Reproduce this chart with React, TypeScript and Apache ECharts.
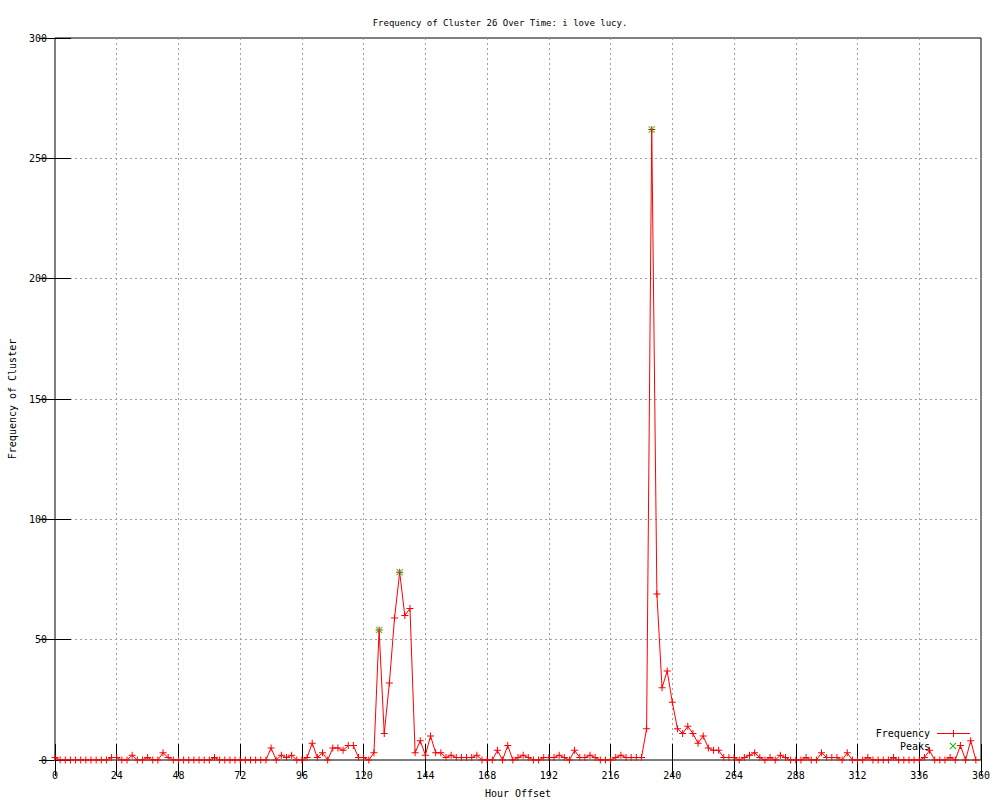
import React, { useEffect, useRef } from 'react';
import * as echarts from 'echarts';

const hours = [
  0, 2, 4, 6, 8, 10, 12, 14, 16, 18,
  20, 22, 24, 26, 28, 30, 32, 34, 36, 38,
  40, 42, 44, 46, 48, 50, 52, 54, 56, 58,
  60, 62, 64, 66, 68, 70, 72, 74, 76, 78,
  80, 82, 84, 86, 88, 90, 92, 94, 96, 98,
  100, 102, 104, 106, 108, 110, 112, 114, 116, 118,
  120, 122, 124, 126, 128, 130, 132, 134, 136, 138,
  140, 142, 144, 146, 148, 150, 152, 154, 156, 158,
  160, 162, 164, 166, 168, 170, 172, 174, 176, 178,
  180, 182, 184, 186, 188, 190, 192, 194, 196, 198,
  200, 202, 204, 206, 208, 210, 212, 214, 216, 218,
  220, 222, 224, 226, 228, 230, 232, 234, 236, 238,
  240, 242, 244, 246, 248, 250, 252, 254, 256, 258,
  260, 262, 264, 266, 268, 270, 272, 274, 276, 278,
  280, 282, 284, 286, 288, 290, 292, 294, 296, 298,
  300, 302, 304, 306, 308, 310, 312, 314, 316, 318,
  320, 322, 324, 326, 328, 330, 332, 334, 336, 338,
  340, 342, 344, 346, 348, 350, 352, 354, 356, 358,
];

const frequency = [
  1, 0, 0, 0, 0, 0, 0, 0, 0, 0,
  0, 1, 1, 0, 0, 2, 0, 0, 1, 0,
  0, 3, 1, 0, 0, 0, 0, 0, 0, 0,
  0, 1, 0, 0, 0, 0, 0, 0, 0, 0,
  0, 0, 5, 0, 2, 1, 2, 0, 0, 1,
  7, 1, 3, 0, 5, 5, 4, 6, 6, 1,
  1, 0, 3, 54, 11, 32, 59, 78, 60, 63,
  3, 8, 2, 10, 3, 3, 1, 2, 1, 1,
  1, 1, 2, 0, 0, 0, 4, 0, 6, 0,
  1, 2, 1, 0, 0, 1, 1, 1, 2, 1,
  0, 4, 1, 1, 2, 1, 0, 0, 0, 1,
  2, 1, 1, 1, 1, 13, 262, 69, 30, 37,
  24, 13, 11, 14, 11, 7, 10, 5, 4, 4,
  1, 1, 1, 0, 1, 2, 3, 1, 0, 1,
  0, 2, 1, 0, 0, 0, 1, 0, 0, 3,
  1, 1, 1, 0, 3, 0, 0, 0, 1, 0,
  0, 0, 0, 1, 0, 0, 0, 0, 0, 1,
  4, 0, 0, 0, 1, 0, 6, 0, 8, 0,
];

const peakHours = [126, 134, 232];

const xMin = 0;
const xMax = 360;
const xStep = 24;
const yMin = 0;
const yMax = 300;
const yStep = 50;

const titleText = 'Frequency of Cluster 26 Over Time: i love lucy.';
const xName = 'Hour Offset';
const yName = 'Frequency of Cluster';
const seriesNames = ['Frequency', 'Peaks'];

const FONT = 'DejaVu Sans Mono';
const RED = '#ff0000';
const GREEN = '#00c000';

const PLUS = 'path://M3,0H4V3H7V4H4V7H3V4H0V3H3Z';
const CROSS = 'path://M0,0.7L0.7,0L3.5,2.8L6.3,0L7,0.7L4.2,3.5L7,6.3L6.3,7L3.5,4.2L0.7,7L0,6.3L2.8,3.5Z';

export default function App() {
  const ref = useRef<HTMLDivElement>(null);

  useEffect(() => {
    document.body.style.margin = '0';
    if (!ref.current) return;
    const chart = echarts.init(ref.current, undefined, { renderer: 'svg' });

    const lineData = hours.map((h, i) => [h, frequency[i]]);
    const peakData = peakHours.map((h) => [h, frequency[hours.indexOf(h)]]);

    const textStyle = { fontFamily: FONT, fontSize: 10, color: '#000' };
    const tickStyle = { color: '#000', width: 1 };
    const gridLine = { color: '#a0a0a0', width: 1, type: [2, 3] as number[] };
    const TICK = 16;

    // legend key geometry (x of key centre, rows)
    const kx = 953;
    const ky1 = 733;
    const ky2 = 746;
    const crossPts = [
      [kx - 3.5, ky2 - 2.8], [kx - 2.8, ky2 - 3.5], [kx, ky2 - 0.7], [kx + 2.8, ky2 - 3.5],
      [kx + 3.5, ky2 - 2.8], [kx + 0.7, ky2], [kx + 3.5, ky2 + 2.8], [kx + 2.8, ky2 + 3.5],
      [kx, ky2 + 0.7], [kx - 2.8, ky2 + 3.5], [kx - 3.5, ky2 + 2.8], [kx - 0.7, ky2],
    ];

    const option: any = {
      animation: false,
      backgroundColor: '#fff',
      title: {
        text: titleText,
        left: 'center',
        top: 13,
        textStyle: { ...textStyle, fontSize: 9, fontWeight: 'normal' },
      },
      grid: {
        left: 55,
        right: 19,
        top: 38,
        bottom: 40,
        outerBoundsMode: 'none',
        containLabel: false,
        show: true,
        borderColor: '#000',
        borderWidth: 1,
        backgroundColor: 'transparent',
      },
      xAxis: [
        {
          type: 'value',
          min: xMin,
          max: xMax,
          interval: xStep,
          name: xName,
          nameLocation: 'middle',
          nameGap: 28,
          nameTextStyle: textStyle,
          axisLine: { show: false },
          axisTick: { show: true, inside: true, length: TICK, lineStyle: tickStyle },
          axisLabel: { ...textStyle, margin: 10 },
          splitLine: { show: true, showMinLine: false, showMaxLine: false, lineStyle: gridLine },
        },
        {
          type: 'value',
          position: 'top',
          min: xMin,
          max: xMax,
          interval: xStep,
          axisLine: { show: false },
          axisTick: { show: true, inside: true, length: TICK, lineStyle: tickStyle },
          axisLabel: { show: false },
          splitLine: { show: false },
        },
      ],
      yAxis: [
        {
          type: 'value',
          min: yMin,
          max: yMax,
          interval: yStep,
          name: yName,
          nameLocation: 'middle',
          nameGap: 38,
          nameTextStyle: textStyle,
          axisLine: { show: false },
          axisTick: { show: true, inside: true, length: TICK, lineStyle: tickStyle },
          axisLabel: { ...textStyle, margin: 8 },
          splitLine: { show: true, showMinLine: false, showMaxLine: false, lineStyle: gridLine },
        },
        {
          type: 'value',
          position: 'right',
          min: yMin,
          max: yMax,
          interval: yStep,
          axisLine: { show: false },
          axisTick: { show: true, inside: true, length: TICK, lineStyle: tickStyle },
          axisLabel: { show: false },
          splitLine: { show: false },
        },
      ],
      series: [
        {
          name: seriesNames[0],
          type: 'line',
          xAxisIndex: 0,
          yAxisIndex: 0,
          data: lineData,
          symbol: PLUS,
          symbolSize: 7,
          showAllSymbol: true,
          itemStyle: { color: RED },
          lineStyle: { color: RED, width: 1 },
          z: 3,
        },
        {
          name: seriesNames[1],
          type: 'scatter',
          xAxisIndex: 0,
          yAxisIndex: 0,
          data: peakData,
          symbol: CROSS,
          symbolSize: 7,
          itemStyle: { color: GREEN },
          z: 4,
        },
      ],
      graphic: [
        {
          type: 'text',
          x: 930,
          y: ky1,
          z: 100,
          style: { text: seriesNames[0], fill: '#000', font: `10px "${FONT}"`, align: 'right', verticalAlign: 'middle' },
        },
        { type: 'rect', z: 100, shape: { x: 937, y: ky1, width: 33, height: 1 }, style: { fill: RED } },
        { type: 'rect', z: 100, shape: { x: kx, y: ky1 - 3, width: 1, height: 7 }, style: { fill: RED } },
        {
          type: 'text',
          x: 930,
          y: ky2,
          z: 100,
          style: { text: seriesNames[1], fill: '#000', font: `10px "${FONT}"`, align: 'right', verticalAlign: 'middle' },
        },
        { type: 'polygon', z: 100, shape: { points: crossPts }, style: { fill: GREEN } },
      ],
    };

    chart.setOption(option);
    return () => chart.dispose();
  }, []);

  return <div ref={ref} style={{ width: 1000, height: 800 }} />;
}
